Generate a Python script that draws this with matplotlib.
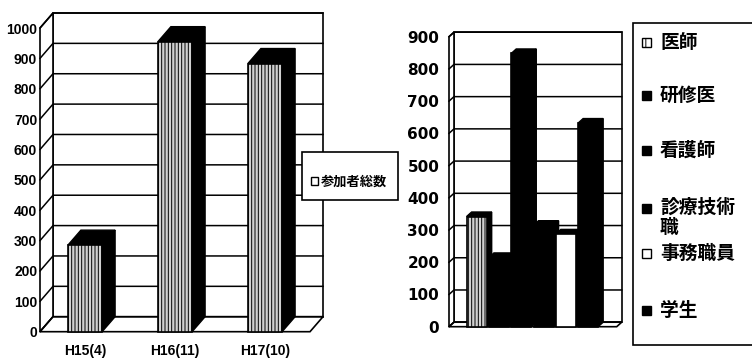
import matplotlib.pyplot as plt
from matplotlib.patches import Polygon, Rectangle

plt.rcParams['hatch.linewidth'] = 0.7
plt.rcParams['hatch.color'] = 'black'

##### DATA
left_cats = ['H15(4)', 'H16(11)', 'H17(10)']
left_vals = [285, 955, 883]
left_label = '参加者総数'

right_cats = ['医師', '研修医', '看護師', '診療技術\n職', '事務職員', '学生']
right_vals = [342, 215, 848, 315, 288, 632]
right_colors = ['#d0d0d0', 'black', 'black', 'black', 'white', 'black']
right_hatch = ['|||||', None, None, None, None, None]

W, H = 752, 359
JP = ['Noto Sans CJK JP', 'DejaVu Sans']
LIB = ['Liberation Sans', 'DejaVu Sans']

fig = plt.figure(figsize=(W / 100, H / 100), dpi=100)


def px_axes(x0, y_top, x1, y_bot):
    return fig.add_axes([x0 / W, 1 - y_bot / H, (x1 - x0) / W, (y_bot - y_top) / H])


def draw_walls(ax, x0, x1, ymax, step, dx, dy):
    kw = dict(fc='white', ec='black', lw=1.2, clip_on=False)
    ax.add_patch(Rectangle((x0 + dx, dy), x1 - x0, ymax, zorder=0, **kw))
    ax.add_patch(Polygon([(x0, 0), (x0 + dx, dy), (x0 + dx, ymax + dy), (x0, ymax)], zorder=0.5, **kw))
    ax.add_patch(Polygon([(x0, 0), (x1, 0), (x1 + dx, dy), (x0 + dx, dy)], zorder=0.5, **kw))
    for v in range(0, ymax + 1, step):
        ax.plot([x0, x0 + dx, x1 + dx], [v, v + dy, v + dy], color='black', lw=1.1,
                zorder=0.6, clip_on=False)
    for s in ax.spines.values():
        s.set_visible(False)
    ax.patch.set_visible(False)
    ax.set_xlim(x0, x1)
    ax.set_ylim(0, ymax)


def draw_box(ax, xc, w, v, dx, dy, face, hatch, z):
    xl, xr = xc - w / 2, xc + w / 2
    ax.add_patch(Polygon([(xr, 0), (xr + dx, dy), (xr + dx, v + dy), (xr, v)],
                         fc='black', ec='black', lw=1, zorder=z, clip_on=False))
    ax.add_patch(Polygon([(xl, v), (xr, v), (xr + dx, v + dy), (xl + dx, v + dy)],
                         fc='black', ec='black', lw=1, zorder=z, clip_on=False))
    ax.add_patch(Rectangle((xl, 0), w, v, fc=face, ec='black', lw=1.2, hatch=hatch,
                           zorder=z + 0.1, clip_on=False))


# left chart: total participants
ax1 = px_axes(40, 28, 310, 331.7)
dx1, dy1 = 13 / 90, 15 / 0.3037
draw_walls(ax1, 0, 3, 1000, 100, dx1, dy1)
for i, v in enumerate(left_vals):
    draw_box(ax1, i + 0.5, 0.38, v, dx1, dy1, '#d0d0d0', '|||||', 2 + i)
ax1.set_yticks(range(0, 1001, 100))
ax1.set_yticklabels([str(v) for v in range(0, 1001, 100)], family=LIB,
                    fontweight='bold', fontsize=10)
ax1.set_xticks([i + 0.5 for i in range(len(left_cats))])
ax1.set_xticklabels(left_cats, family=LIB, fontweight='bold', fontsize=10)
ax1.tick_params(axis='y', length=0, pad=2)
ax1.tick_params(axis='x', length=0, pad=9)

# right chart: participants by job
ax2 = px_axes(449, 36.7, 616.7, 326.7)
dx2, dy2 = 5 / 22.3, 4.5 / 0.3222
draw_walls(ax2, -1.24, 6.28, 900, 100, dx2, dy2)
for i, v in enumerate(right_vals):
    draw_box(ax2, i, 0.9, v, dx2, dy2, right_colors[i], right_hatch[i], 2 + i)
ax2.set_yticks(range(0, 901, 100))
ax2.set_yticklabels([str(v) for v in range(0, 901, 100)], family='DejaVu Sans',
                    fontweight='bold', fontsize=11)
ax2.set_xticks([])
ax2.tick_params(axis='y', length=0, pad=7)

# legends drawn on a pixel overlay
ov = fig.add_axes([0, 0, 1, 1])
ov.set_xlim(0, W)
ov.set_ylim(H, 0)
ov.axis('off')

ov.add_patch(Rectangle((302, 152), 96, 48, fc='white', ec='black', lw=1.2, zorder=5))
ov.add_patch(Rectangle((311, 177), 7, 8, fc='white', ec='black', lw=1, zorder=6))
ov.text(321, 181.5, left_label, family=JP, fontweight='bold', fontsize=9.5,
        va='center', ha='left', zorder=6)

ov.add_patch(Rectangle((633, 22.5), 140, 322.5, fc='white', ec='black', lw=1.2,
                       zorder=5, clip_on=False))
legend_y = [42, 95, 150, 208, 253, 310]
for lab, y, c, h in zip(right_cats, legend_y, right_colors, right_hatch):
    ov.add_patch(Rectangle((642, y - 4.5), 9, 9, fc='white' if h else c, ec='black',
                           lw=1, hatch='||' if h else None, zorder=6))
    if '\n' in lab:
        ov.text(660, y - 10, lab, family=JP, fontweight='bold', fontsize=13.5,
                va='top', ha='left', linespacing=1.05, zorder=6)
    else:
        ov.text(660, y, lab, family=JP, fontweight='bold', fontsize=13.5,
                va='center', ha='left', zorder=6)

fig.savefig('out.png', dpi=100)
